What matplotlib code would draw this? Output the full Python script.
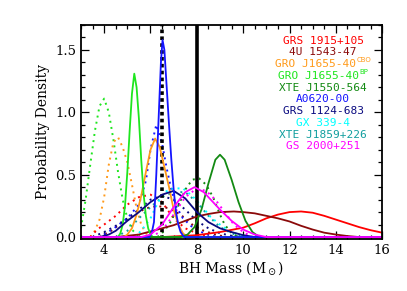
import numpy as np
import matplotlib
matplotlib.use('Agg')
import matplotlib.pyplot as plt
from matplotlib.ticker import MultipleLocator

# Solid curves: mass (Msun) and probability density
grs1915_m = [3.0, 6.5, 7.0, 8.0, 9.0, 10.0, 10.5, 11.0, 11.5, 12.0, 12.5, 13.0, 13.5, 14.0, 14.5, 15.0, 15.5, 16.0]
grs1915_p = [0.0, 0.0, 0.005, 0.015, 0.04, 0.075, 0.11, 0.15, 0.18, 0.2, 0.205, 0.195, 0.17, 0.14, 0.11, 0.08, 0.055, 0.035]

u1543_m = [3.0, 4.5, 5.0, 5.5, 6.0, 6.5, 7.0, 7.5, 8.0, 8.5, 9.0, 9.6, 10.0, 10.5, 11.0, 11.5, 12.0, 12.5, 13.0, 13.5, 14.0, 14.5, 15.0, 16.0]
u1543_p = [0.0, 0.0, 0.01, 0.02, 0.045, 0.07, 0.095, 0.13, 0.165, 0.185, 0.2, 0.205, 0.2, 0.19, 0.17, 0.15, 0.125, 0.09, 0.06, 0.035, 0.02, 0.008, 0.0, 0.0]

gro_cbo_m = [3.0, 4.85, 5.0, 5.2, 5.4, 5.6, 5.8, 6.0, 6.2, 6.4, 6.6, 6.8, 7.0, 7.2, 7.4, 7.6, 16.0]
gro_cbo_p = [0.0, 0.0, 0.02, 0.07, 0.18, 0.33, 0.52, 0.7, 0.79, 0.72, 0.56, 0.4, 0.22, 0.1, 0.03, 0.0, 0.0]

gro_bp_m = [3.0, 4.6, 4.7, 4.8, 4.9, 5.0, 5.1, 5.2, 5.3, 5.4, 5.5, 5.6, 5.7, 5.8, 5.9, 6.0, 6.1, 16.0]
gro_bp_p = [0.0, 0.0, 0.03, 0.1, 0.25, 0.52, 0.85, 1.15, 1.31, 1.2, 0.95, 0.62, 0.35, 0.17, 0.07, 0.02, 0.0, 0.0]

xte1550_m = [3.0, 7.3, 7.6, 7.9, 8.2, 8.5, 8.8, 9.0, 9.2, 9.5, 9.8, 10.1, 10.4, 10.7, 16.0]
xte1550_p = [0.0, 0.0, 0.02, 0.08, 0.22, 0.43, 0.62, 0.66, 0.62, 0.46, 0.28, 0.13, 0.04, 0.0, 0.0]

a0620_m = [3.0, 5.95, 6.05, 6.15, 6.25, 6.35, 6.45, 6.52, 6.6, 6.7, 6.8, 6.9, 7.0, 7.1, 7.2, 7.3, 7.45, 16.0]
a0620_p = [0.0, 0.0, 0.03, 0.12, 0.5, 0.95, 1.4, 1.58, 1.5, 1.2, 0.9, 0.62, 0.38, 0.2, 0.1, 0.04, 0.0, 0.0]

grs1124_m = [3.0, 3.8, 4.2, 4.5, 5.0, 5.5, 6.0, 6.5, 7.0, 7.5, 8.0, 8.5, 9.0, 9.5, 10.0, 10.5, 16.0]
grs1124_p = [0.0, 0.0, 0.02, 0.05, 0.13, 0.2, 0.28, 0.34, 0.37, 0.31, 0.2, 0.12, 0.07, 0.04, 0.015, 0.0, 0.0]

gs2000_m = [3.0, 5.6, 6.0, 6.5, 7.0, 7.5, 7.9, 8.3, 8.7, 9.0, 9.5, 10.0, 10.5, 11.0, 16.0]
gs2000_p = [0.0, 0.0, 0.02, 0.1, 0.24, 0.36, 0.40, 0.36, 0.28, 0.22, 0.13, 0.06, 0.02, 0.0, 0.0]

# Dotted curves
lime_d_m = [3.0, 3.2, 3.4, 3.6, 3.8, 4.0, 4.2, 4.4, 4.6, 4.8, 5.0, 5.2, 5.4, 5.6]
lime_d_p = [0.07, 0.3, 0.58, 0.85, 1.05, 1.11, 1.0, 0.78, 0.52, 0.3, 0.15, 0.06, 0.02, 0.0]

orange_d_m = [3.4, 3.6, 3.8, 4.0, 4.2, 4.4, 4.6, 4.8, 5.0, 5.2, 5.4, 5.6, 5.8, 6.0]
orange_d_p = [0.0, 0.05, 0.14, 0.32, 0.58, 0.76, 0.8, 0.72, 0.6, 0.42, 0.23, 0.1, 0.03, 0.0]

red_d_m = [3.4, 3.7, 4.0, 4.5, 5.0, 5.5, 6.0, 6.5, 7.0, 7.5, 8.0, 8.5]
red_d_p = [0.0, 0.06, 0.1, 0.17, 0.26, 0.32, 0.34, 0.28, 0.15, 0.07, 0.03, 0.0]

maroon_d_m = [3.8, 4.3, 4.8, 5.3, 5.8, 6.3, 6.8, 7.3, 7.8, 8.3, 8.8, 9.3]
maroon_d_p = [0.0, 0.05, 0.12, 0.18, 0.23, 0.25, 0.23, 0.18, 0.1, 0.05, 0.02, 0.0]

blue_d_m = [4.0, 4.5, 5.0, 5.5, 5.8, 6.0, 6.25, 6.5, 6.7, 6.9, 7.1, 7.4, 7.8, 8.2, 8.6, 9.0]
blue_d_p = [0.02, 0.08, 0.15, 0.26, 0.45, 0.7, 0.9, 0.75, 0.55, 0.38, 0.25, 0.15, 0.08, 0.04, 0.01, 0.0]

navy_d_m = [3.5, 4.0, 4.5, 5.0, 5.5, 6.0, 6.5, 7.0, 7.5, 8.0, 8.5, 9.0, 9.5, 10.0]
navy_d_p = [0.0, 0.04, 0.09, 0.15, 0.22, 0.3, 0.33, 0.3, 0.22, 0.13, 0.07, 0.03, 0.01, 0.0]

cyan_d_m = [5.3, 5.6, 6.0, 6.3, 6.6, 7.0, 7.4, 7.8, 8.2, 8.6, 9.0, 9.4, 9.8, 10.2]
cyan_d_p = [0.0, 0.05, 0.15, 0.27, 0.36, 0.39, 0.39, 0.33, 0.25, 0.16, 0.1, 0.05, 0.02, 0.0]

teal_d_m = [4.5, 5.0, 5.5, 6.0, 6.5, 7.0, 7.5, 8.0, 8.5, 9.0, 9.5, 10.0]
teal_d_p = [0.0, 0.05, 0.15, 0.24, 0.32, 0.36, 0.36, 0.28, 0.17, 0.08, 0.03, 0.0]

green_d_m = [6.3, 6.6, 6.9, 7.2, 7.5, 7.8, 8.1, 8.4, 8.7, 9.0, 9.2, 9.5, 9.8]
green_d_p = [0.0, 0.05, 0.13, 0.25, 0.38, 0.46, 0.47, 0.42, 0.32, 0.18, 0.1, 0.03, 0.0]

magenta_d_m = [6.0, 6.5, 7.0, 7.5, 8.0, 8.4, 8.8, 9.2, 9.6, 10.0, 10.4]
magenta_d_p = [0.0, 0.05, 0.18, 0.32, 0.39, 0.37, 0.3, 0.2, 0.1, 0.04, 0.0]

names = ['GRS 1915+105', '4U 1543-47', 'GRO J1655-40', 'GRO J1655-40',
         'XTE J1550-564', 'A0620-00', 'GRS 1124-683', 'GX 339-4', 'XTE J1859+226', 'GS 2000+251']
supers = ['', '', 'CBO', 'BP', '', '', '', '', '', '']
colors = ['#ff0000', '#8b0a0a', '#ff9a1a', '#1ee61e', '#138a13', '#1414ff', '#0a0a80',
          '#00ffff', '#119e9e', '#ff00ff']

fig = plt.figure(figsize=(4.07, 2.91), dpi=100)
ax = fig.add_axes([0.199, 0.179, 0.740, 0.735])

dotted = [(lime_d_m, lime_d_p, colors[3]), (orange_d_m, orange_d_p, colors[2]),
          (red_d_m, red_d_p, colors[0]), (maroon_d_m, maroon_d_p, colors[1]),
          (navy_d_m, navy_d_p, colors[6]), (blue_d_m, blue_d_p, colors[5]),
          (teal_d_m, teal_d_p, colors[8]), (cyan_d_m, cyan_d_p, colors[7]),
          (green_d_m, green_d_p, colors[4]), (magenta_d_m, magenta_d_p, colors[9])]
for m, p, c in dotted:
   ax.plot(m, p, color=c, lw=1.4, ls=(0, (1, 2.2)))

ax.axvline(6.5, color='k', lw=2.6, ls=(0, (1, 0.9)))
ax.axvline(8.0, color='k', lw=2.6)

solid = [(grs1915_m, grs1915_p, colors[0]), (u1543_m, u1543_p, colors[1]),
         (gro_cbo_m, gro_cbo_p, colors[2]), (gro_bp_m, gro_bp_p, colors[3]),
         (xte1550_m, xte1550_p, colors[4]), (grs1124_m, grs1124_p, colors[6]),
         (a0620_m, a0620_p, colors[5]), (gs2000_m, gs2000_p, colors[9])]
for m, p, c in solid:
   ax.plot(m, p, color=c, lw=1.3)

ax.set_xlim(3, 16)
ax.set_ylim(-0.015, 1.7)
ax.set_xticks([4, 6, 8, 10, 12, 14, 16])
ax.set_yticks([0.0, 0.5, 1.0, 1.5])
ax.set_yticklabels(['0.0', '0.5', '1.0', '1.5'])
ax.xaxis.set_minor_locator(MultipleLocator(0.5))
ax.yaxis.set_minor_locator(MultipleLocator(0.1))
ax.tick_params(which='both', direction='in', top=True, right=True, width=0.9,
               labelsize=9.5, labelfontfamily='DejaVu Serif')
ax.tick_params(which='major', length=6)
ax.tick_params(which='minor', length=3)
for s in ax.spines.values():
   s.set_linewidth(1.3)

ax.set_xlabel(r'BH Mass (M$_\odot$)', fontsize=10, family='DejaVu Serif', labelpad=2)
ax.set_ylabel('Probability Density', fontsize=10, family='DejaVu Serif', labelpad=4)

# source labels, centred in a column; superscripts as small separate texts
fig.canvas.draw()
renderer = fig.canvas.get_renderer()
for k, (name, sup, c) in enumerate(zip(names, supers, colors)):
   y = 1 - (15.7 + 11.75 * k) / 214
   if sup:
      t = ax.text(0.0, y, name, color=c, fontsize=8, family='DejaVu Sans Mono',
                  ha='left', va='center', transform=ax.transAxes)
      s = ax.text(0.0, y, sup, color=c, fontsize=5, family='DejaVu Sans',
                  ha='left', va='bottom', transform=ax.transAxes)
      wt = t.get_window_extent(renderer).width
      ws = s.get_window_extent(renderer).width
      axw = ax.get_window_extent(renderer).width
      x0 = 0.804 - (wt + ws + 1) / 2 / axw
      t.set_x(x0)
      s.set_x(x0 + (wt + 1) / axw)
      s.set_y(y + 0.004)
   else:
      ax.text(0.804, y, name, color=c, fontsize=8, family='DejaVu Sans Mono',
              ha='center', va='center', transform=ax.transAxes)

fig.savefig('out.png', dpi=100)
